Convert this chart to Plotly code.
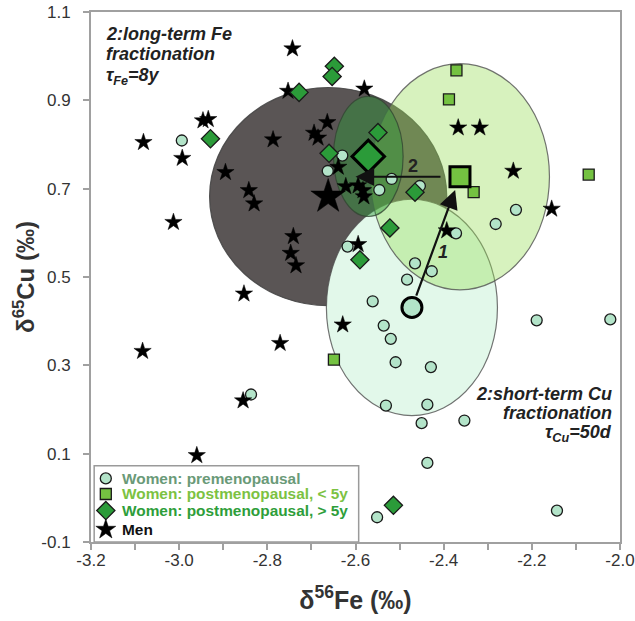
import plotly.graph_objects as go

# ---------------- data (δ56Fe, δ65Cu in ‰) ----------------
pre_fe = [-2.994, -2.630, -2.663, -2.518, -2.546, -2.454, -2.236, -2.282, -2.372, -2.618,
          -2.465, -2.427, -2.483, -2.561, -2.536, -2.520, -2.509, -2.429, -2.531, -2.437,
          -2.450, -2.353, -2.437, -2.551, -2.189, -2.022, -2.143, -2.837]
pre_cu = [0.809, 0.775, 0.740, 0.722, 0.697, 0.706, 0.652, 0.620, 0.599, 0.569,
          0.531, 0.513, 0.494, 0.445, 0.390, 0.360, 0.307, 0.296, 0.209, 0.211,
          0.169, 0.175, 0.079, -0.044, 0.402, 0.404, -0.029, 0.234]

lt5_fe = [-2.371, -2.388, -2.332, -2.071, -2.649]
lt5_cu = [0.968, 0.902, 0.692, 0.732, 0.313]

gt5_fe = [-2.648, -2.653, -2.728, -2.929, -2.549, -2.660, -2.465, -2.522, -2.590, -2.514]
gt5_cu = [0.977, 0.954, 0.918, 0.813, 0.827, 0.780, 0.692, 0.611, 0.539, -0.017]

men_fe = [-2.743, -2.753, -2.580, -2.946, -2.934, -3.081, -2.993, -2.787, -2.664, -2.694,
          -2.685, -2.895, -2.842, -2.830, -3.013, -2.741, -2.747, -2.735, -2.639, -2.622,
          -2.594, -2.583, -2.581, -2.594, -2.367, -2.318, -2.242, -2.155, -2.393, -2.853,
          -2.629, -3.083, -2.771, -2.855, -2.960]
men_cu = [1.017, 0.921, 0.926, 0.854, 0.857, 0.805, 0.769, 0.811, 0.850, 0.826,
          0.815, 0.737, 0.696, 0.666, 0.624, 0.592, 0.554, 0.526, 0.749, 0.705,
          0.707, 0.696, 0.682, 0.574, 0.838, 0.838, 0.740, 0.654, 0.605, 0.462,
          0.392, 0.332, 0.350, 0.220, 0.096]

# group means (big symbols) and ellipse half-axes
group_names = ["pre", "lt5", "gt5", "men"]
group_labels = ["Women: premenopausal", "Women: postmenopausal, &lt; 5y",
                "Women: postmenopausal, &gt; 5y", "Men"]
mean_fe = [-2.472, -2.363, -2.571, -2.662]
mean_cu = [0.431, 0.727, 0.773, 0.682]
ell_rfe = [0.194, 0.203, 0.079, 0.269]
ell_rcu = [0.245, 0.256, 0.136, 0.247]

# end of arrow 2 (long-term Fe fractionation)
arrow2_end_fe = -2.600

x_ticks = [-3.2, -3.0, -2.8, -2.6, -2.4, -2.2, -2.0]
y_ticks = [-0.1, 0.1, 0.3, 0.5, 0.7, 0.9, 1.1]

fe_note_lines = ["2:long-term Fe", "fractionation", "τ<sub>Fe</sub>=8y"]
cu_note_lines = ["2:short-term Cu", "fractionation", "τ<sub>Cu</sub>=50d"]

# ---------------- styling ----------------
FONT = "Liberation Sans, Arial, sans-serif"
EDGE = "#1a1a1a"
fill_col = {"pre": "#b3e4c9", "lt5": "#74c241", "gt5": "#2b9b39", "men": "#000000"}
text_col = {"pre": "#6a9a78", "lt5": "#7cc242", "gt5": "#2e9e3a", "men": "#111111"}
symbol = {"pre": "circle", "lt5": "square", "gt5": "diamond", "men": "star"}
msize = {"pre": 11, "lt5": 11, "gt5": 14, "men": 13}
big_size = {"pre": 20, "lt5": 20, "gt5": 25, "men": 26}

fig = go.Figure()

# ellipses (order: men dark, premenopausal, postmeno <5y, postmeno >5y)
ell_style = {
    "men": dict(fill="rgb(90,85,85)", line="rgba(70,70,70,0.9)"),
    "pre": dict(fill="rgb(226,248,234)", line="rgba(80,80,80,0.8)"),
    "lt5": dict(fill="rgba(150,220,85,0.38)", line="rgba(80,80,80,0.8)"),
    "gt5": dict(fill="rgba(45,150,55,0.45)", line="rgba(50,70,50,0.8)"),
}
for g in ["men", "pre", "lt5", "gt5"]:
    i = group_names.index(g)
    fig.add_shape(type="circle", xref="x", yref="y", layer="below",
                  x0=mean_fe[i] - ell_rfe[i], x1=mean_fe[i] + ell_rfe[i],
                  y0=mean_cu[i] - ell_rcu[i], y1=mean_cu[i] + ell_rcu[i],
                  fillcolor=ell_style[g]["fill"],
                  line=dict(color=ell_style[g]["line"], width=1.2))

# individual data
series = {"pre": (pre_fe, pre_cu), "lt5": (lt5_fe, lt5_cu),
          "gt5": (gt5_fe, gt5_cu), "men": (men_fe, men_cu)}
for g in ["pre", "men", "gt5", "lt5"]:
    xs, ys = series[g]
    edge = dict(color="#000000", width=0.5) if g == "men" else dict(color=EDGE, width=1.3)
    fig.add_trace(go.Scatter(x=xs, y=ys, mode="markers", showlegend=False,
                             name=group_labels[group_names.index(g)],
                             marker=dict(symbol=symbol[g], size=msize[g], color=fill_col[g], line=edge)))

# group means
for g in group_names:
    i = group_names.index(g)
    edge = dict(color="#000000", width=0.5) if g == "men" else dict(color="#000000", width=3)
    fig.add_trace(go.Scatter(x=[mean_fe[i]], y=[mean_cu[i]], mode="markers", showlegend=False,
                             marker=dict(symbol=symbol[g], size=big_size[g], color=fill_col[g], line=edge)))

# arrows
ip, il = group_names.index("pre"), group_names.index("lt5")
fig.add_annotation(x=mean_fe[il], y=mean_cu[il], ax=mean_fe[ip], ay=mean_cu[ip],
                   xref="x", yref="y", axref="x", ayref="y", text="", showarrow=True,
                   arrowhead=2, arrowsize=1.7, arrowwidth=2.2, arrowcolor="#111111",
                   standoff=14, startstandoff=11)
fig.add_annotation(x=arrow2_end_fe, y=mean_cu[il], ax=mean_fe[il], ay=mean_cu[il],
                   xref="x", yref="y", axref="x", ayref="y", text="", showarrow=True,
                   arrowhead=2, arrowsize=1.7, arrowwidth=2.2, arrowcolor="#111111",
                   standoff=0, startstandoff=18)
fig.add_annotation(x=-2.402, y=0.556, xref="x", yref="y", text="<b><i>1</i></b>", showarrow=False,
                   font=dict(family=FONT, size=18, color="#222222"))
fig.add_annotation(x=-2.470, y=0.752, xref="x", yref="y", text="<b>2</b>", showarrow=False,
                   font=dict(family=FONT, size=18, color="#222222"))

# text labels (one annotation per line for tight line spacing)
for line, yy in zip(fe_note_lines, [0.959, 0.920, 0.878]):
    fig.add_annotation(xref="paper", yref="paper", x=0.027, y=yy, xanchor="left", yanchor="middle",
                       showarrow=False, text=f"<b><i>{line}</i></b>", borderpad=0,
                       font=dict(family=FONT, size=18, color="#222222"))
for line, yy in zip(cu_note_lines, [0.280, 0.244, 0.204]):
    fig.add_annotation(xref="paper", yref="paper", x=0.986, y=yy, xanchor="right", yanchor="middle",
                       showarrow=False, text=f"<b><i>{line}</i></b>", borderpad=0,
                       font=dict(family=FONT, size=18, color="#222222"))

# ---------------- compact legend (box + symbols on an overlay axis + labels) ----------------
leg_x0, leg_x1, leg_y0, leg_y1 = 0.006, 0.506, 0.0, 0.144
leg_rows = [0.120, 0.0906, 0.0594, 0.0236]
leg_sym_x = 0.028
leg_txt_x = 0.057
fig.add_shape(type="rect", xref="paper", yref="paper", layer="below",
              x0=leg_x0, x1=leg_x1, y0=leg_y0, y1=leg_y1,
              fillcolor="white", line=dict(color="#9a9a9a", width=1.5))
for k, g in enumerate(group_names):
    edge = dict(color="#000000", width=0.5) if g == "men" else dict(color=EDGE, width=1.3)
    fig.add_trace(go.Scatter(x=[leg_sym_x], y=[leg_rows[k]], xaxis="x2", yaxis="y2",
                             mode="markers", showlegend=False, hoverinfo="skip",
                             marker=dict(symbol=symbol[g], size=msize[g] + (2 if g == "men" else 0),
                                         color=fill_col[g], line=edge)))
    fig.add_annotation(xref="paper", yref="paper", x=leg_txt_x, y=leg_rows[k],
                       xanchor="left", yanchor="middle", showarrow=False, borderpad=0,
                       text=f"<b>{group_labels[k]}</b>",
                       font=dict(family=FONT, size=15.4, color=text_col[g]))

axis_common = dict(showgrid=False, zeroline=False, showline=True, mirror=True,
                   linecolor="#a0a0a0", linewidth=2, ticks="outside", ticklen=6,
                   tickcolor="#a0a0a0", tickwidth=1.5, ticklabeloverflow="allow",
                   automargin=False,
                   tickfont=dict(family=FONT, size=17, color="#333333"))

fig.update_layout(
    width=635, height=621,
    margin=dict(l=91, r=15, t=12, b=79),
    paper_bgcolor="white", plot_bgcolor="white",
    font=dict(family=FONT),
    showlegend=False,
    xaxis=dict(range=[-3.2, -2.0], tickvals=x_ticks, ticktext=[f"{v:.1f}" for v in x_ticks],
               minor=dict(tickvals=[round(-3.1 + 0.2 * k, 1) for k in range(6)], ticks="outside",
                          ticklen=6, tickcolor="#a0a0a0", tickwidth=1.5),
               ticklabelstandoff=-4,
               title=dict(text="<b>δ<sup>56</sup>Fe (‰)</b>", standoff=22,
                          font=dict(family=FONT, size=25, color="#333333")),
               **axis_common),
    yaxis=dict(range=[-0.1, 1.1], tickvals=y_ticks, ticktext=[f"{v:.1f}" for v in y_ticks],
               ticklabelstandoff=9,
               title=dict(text="<b>δ<sup>65</sup>Cu (‰)</b>", standoff=0,
                          font=dict(family=FONT, size=24, color="#333333")),
               **axis_common),
    xaxis2=dict(overlaying="x", range=[0, 1], visible=False, fixedrange=True, automargin=False),
    yaxis2=dict(overlaying="y", range=[0, 1], visible=False, fixedrange=True, automargin=False),
)

# place the figure at the page's top-left corner (no default body margin)
fig.write_html("out.html", config={"displayModeBar": False},
               post_script="document.body.style.margin='0';")
